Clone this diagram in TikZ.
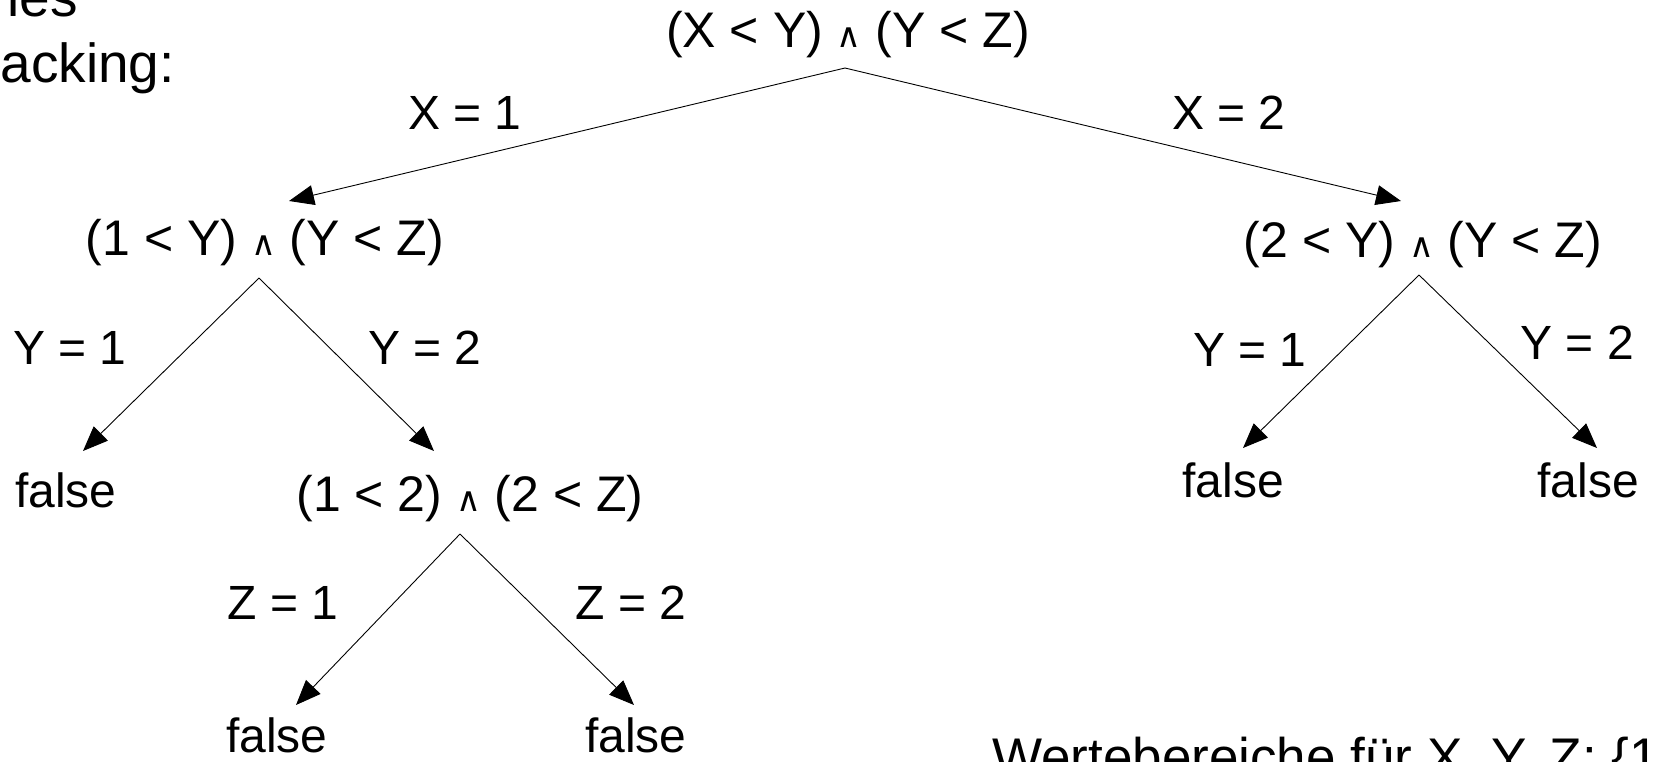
\documentclass[tikz,border=0pt]{standalone}
\usepackage{fontspec}
\setmainfont{Liberation Sans}
\newfontfamily\symfont{DejaVu Sans}
\usetikzlibrary{arrows.meta}
\newcommand{\aand}{{\symfont\fontsize{34}{38}\selectfont ∧}}
\begin{document}
\begin{tikzpicture}[x=1pt,y=-1pt,
  lbl/.style={inner sep=0pt,anchor=base,font=\fontsize{48}{56}\selectfont},
  expr/.style={inner sep=0pt,anchor=base,font=\fontsize{50}{58}\selectfont},
  head/.style={inner sep=0pt,anchor=base east,font=\fontsize{55}{64}\selectfont},
  arr/.style={line width=0.9pt,-{Triangle[length=25pt,width=20pt]}}]
\useasboundingbox (0,0) rectangle (1657,762);
\clip (0,0) rectangle (1657,762);
% clipped heading
\node[head] (h1) at (78,17) {ies};
\node[head] (h2) at (175,83) {acking:};
% nodes
\node[expr] (root) at (848,48) {(X < Y) \aand{} (Y < Z)};
\node[lbl] (x1) at (465,130) {X = 1};
\node[lbl] (x2) at (1229,130) {X = 2};
\node[expr] (nl) at (265,255) {(1 < Y) \aand{} (Y < Z)};
\node[expr] (nr) at (1423,257) {(2 < Y) \aand{} (Y < Z)};
\node[lbl] (ly1) at (70,364) {Y = 1};
\node[lbl] (ly2) at (425,364) {Y = 2};
\node[lbl] (lf) at (66,507) {false};
\node[expr] (nlr) at (470,511) {(1 < 2) \aand{} (2 < Z)};
\node[lbl] (z1) at (283,619) {Z = 1};
\node[lbl] (z2) at (631,619) {Z = 2};
\node[lbl] (f1) at (277,752) {false};
\node[lbl] (f2) at (636,752) {false};
\node[lbl] (ry1) at (1250,366) {Y = 1};
\node[lbl] (ry2) at (1577,359) {Y = 2};
\node[lbl] (rf1) at (1233,497) {false};
\node[lbl] (rf2) at (1588,497) {false};
\node[inner sep=0pt,anchor=base west,font=\fontsize{53}{60}\selectfont] (dom) at (992,775) {Wertebereiche für X, Y, Z: \{1, 2\}};
% connector end points
\coordinate (root-a) at (845,68);
\coordinate (nl-t) at (289,201);
\coordinate (nr-t) at (1401,201);
\coordinate (nl-a) at (259,278);
\coordinate (lf-t) at (83,451);
\coordinate (nlr-t) at (434,451);
\coordinate (nlr-a) at (460,534);
\coordinate (f1-t) at (296,705);
\coordinate (f2-t) at (634,705);
\coordinate (nr-a) at (1419,275);
\coordinate (rf1-t) at (1243,448);
\coordinate (rf2-t) at (1597,448);
% connectors
\draw[arr] (root-a) -- (nl-t);
\draw[arr] (root-a) -- (nr-t);
\draw[arr] (nl-a) -- (lf-t);
\draw[arr] (nl-a) -- (nlr-t);
\draw[arr] (nlr-a) -- (f1-t);
\draw[arr] (nlr-a) -- (f2-t);
\draw[arr] (nr-a) -- (rf1-t);
\draw[arr] (nr-a) -- (rf2-t);
\end{tikzpicture}
\end{document}
